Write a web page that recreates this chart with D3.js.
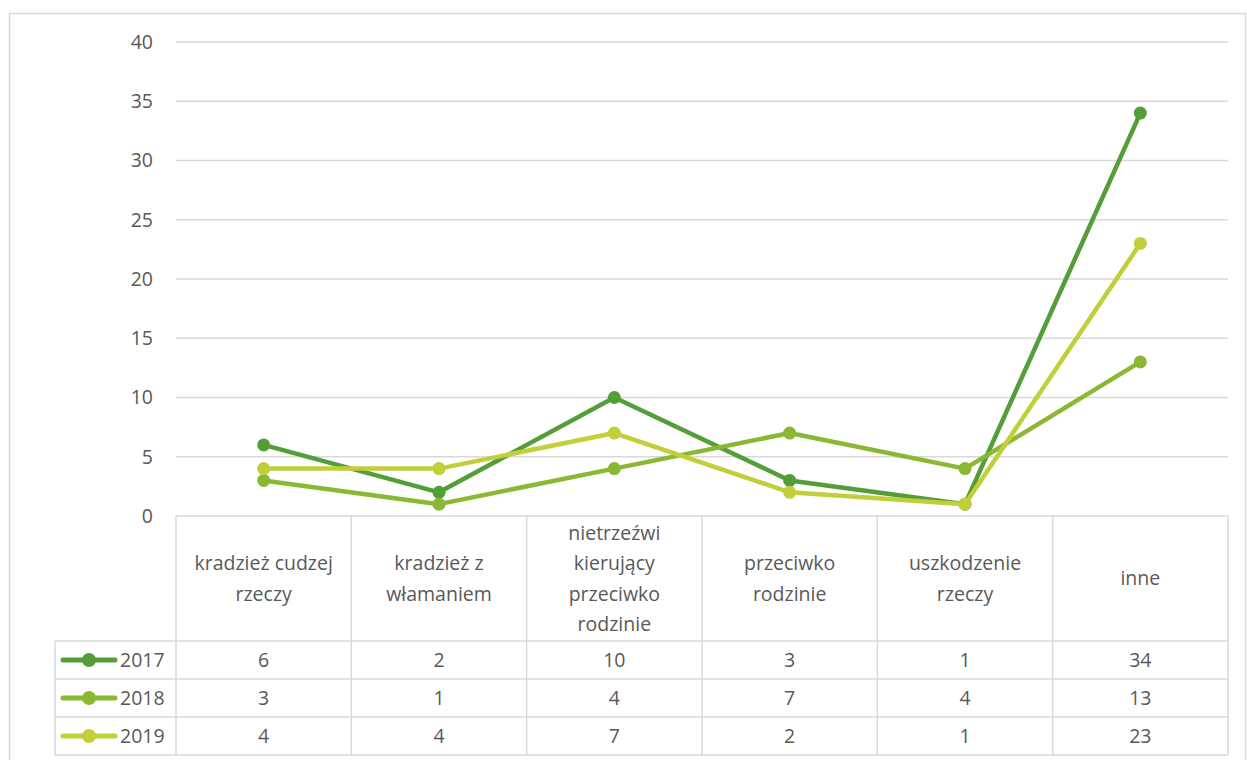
<!DOCTYPE html>
<html>
<head>
<meta charset="utf-8">
<script src="https://cdn.jsdelivr.net/npm/d3@7"></script>
<style>
  body { margin: 0; background: #fff; }
  svg text { font-family: "Open Sans", "Noto Sans", sans-serif; fill: #595959; }
</style>
</head>
<body>
<div id="chart"></div>
<script>
const categories = [
  ["kradzież cudzej", "rzeczy"],
  ["kradzież z", "włamaniem"],
  ["nietrzeźwi", "kierujący", "przeciwko", "rodzinie"],
  ["przeciwko", "rodzinie"],
  ["uszkodzenie", "rzeczy"],
  ["inne"]
];
const years = ["2017", "2018", "2019"];
const values2017 = [6, 2, 10, 3, 1, 34];
const values2018 = [3, 1, 4, 7, 4, 13];
const values2019 = [4, 4, 7, 2, 1, 23];
const colors = ["#549E39", "#8AB833", "#C0CF3A"];
const yTicks = [0, 5, 10, 15, 20, 25, 30, 35, 40];

const series = [values2017, values2018, values2019];

const W = 1247, H = 760;
let plotLeft = 176, plotRight = 1228, plotTop = 42, plotBottom = 516;
let headerBottom = 641, rowH = 38, legendLeft = 55;
const fontSize = "19.5px";

const svg = d3.select("#chart").append("svg")
    .attr("width", W).attr("height", H);

// outer frame
svg.append("rect")
  .attr("x", 9.5).attr("y", 13.5)
  .attr("width", 1236).attr("height", 760)
  .attr("fill", "none").attr("stroke", "#d9d9d9").attr("stroke-width", 1.5);

let x = d3.scaleBand()
  .domain(d3.range(categories.length))
  .range([plotLeft, plotRight]);

let y = d3.scaleLinear()
  .domain([0, 40])
  .range([plotBottom, plotTop]);

// grid lines
svg.append("g")
  .selectAll("line")
  .data(yTicks.slice(1))
  .enter().append("line")
    .attr("x1", plotLeft).attr("x2", plotRight)
    .attr("y1", d => y(d)).attr("y2", d => y(d))
    .attr("stroke", "#d9d9d9").attr("stroke-width", 1.5);

// y axis labels
svg.append("g")
  .selectAll("text")
  .data(yTicks)
  .enter().append("text")
    .attr("x", plotLeft - 23)
    .attr("y", d => y(d))
    .attr("dy", "0.35em")
    .attr("text-anchor", "end")
    .style("font-size", fontSize)
    .text(d => d);

// table grid
const tableBottom = headerBottom + rowH * years.length;
const tg = svg.append("g").attr("stroke", "#d9d9d9").attr("stroke-width", 1.5);
tg.append("line").attr("x1", plotLeft).attr("x2", plotRight).attr("y1", plotBottom).attr("y2", plotBottom);
tg.append("line").attr("x1", legendLeft).attr("x2", plotRight).attr("y1", headerBottom).attr("y2", headerBottom);
years.forEach(function(yr, i) {
  let yy = headerBottom + rowH * (i + 1);
  tg.append("line").attr("x1", legendLeft).attr("x2", plotRight).attr("y1", yy).attr("y2", yy);
});
d3.range(categories.length + 1).forEach(function(i) {
  let xx = i < categories.length ? x(i) : plotRight;
  tg.append("line").attr("x1", xx).attr("x2", xx).attr("y1", plotBottom).attr("y2", tableBottom);
});
tg.append("line").attr("x1", legendLeft).attr("x2", legendLeft).attr("y1", headerBottom).attr("y2", tableBottom);

// header labels
const lh = 30.5;
const headerMid = (plotBottom + headerBottom) / 2;
categories.forEach(function(lines, i) {
  let t = svg.append("text")
    .attr("text-anchor", "middle")
    .style("font-size", fontSize);
  lines.forEach(function(line, j) {
    t.append("tspan")
      .attr("x", x(i) + x.bandwidth() / 2)
      .attr("y", headerMid + (j - (lines.length - 1) / 2) * lh)
      .attr("dy", "0.35em")
      .text(line);
  });
});

function rowMid(s) {
  return headerBottom + rowH * s + rowH / 2;
}

// value rows + legend keys
series.forEach(function(vals, s) {
  let cy = rowMid(s);
  svg.append("g").selectAll("text")
    .data(vals)
    .enter().append("text")
      .attr("x", (d, i) => x(i) + x.bandwidth() / 2)
      .attr("y", cy)
      .attr("dy", "0.35em")
      .attr("text-anchor", "middle")
      .style("font-size", fontSize)
      .text(d => d);
  svg.append("line")
    .attr("x1", 63).attr("x2", 115)
    .attr("y1", cy).attr("y2", cy)
    .attr("stroke", colors[s]).attr("stroke-width", 5)
    .attr("stroke-linecap", "round");
  svg.append("circle")
    .attr("cx", 89).attr("cy", cy).attr("r", 7)
    .attr("fill", colors[s]);
  svg.append("text")
    .attr("x", 120).attr("y", cy).attr("dy", "0.35em")
    .style("font-size", fontSize)
    .text(years[s]);
});

// lines
const line = d3.line()
  .x((d, i) => x(i) + x.bandwidth() / 2)
  .y(d => y(d));

series.forEach(function(vals, s) {
  svg.append("path")
    .datum(vals)
    .attr("d", line)
    .attr("fill", "none")
    .attr("stroke", colors[s])
    .attr("stroke-width", 4.5)
    .attr("stroke-linejoin", "round")
    .attr("stroke-linecap", "round");
  svg.append("g").selectAll("circle")
    .data(vals)
    .enter().append("circle")
      .attr("cx", (d, i) => x(i) + x.bandwidth() / 2)
      .attr("cy", d => y(d))
      .attr("r", 6.5)
      .attr("fill", colors[s]);
});
</script>
</body>
</html>
